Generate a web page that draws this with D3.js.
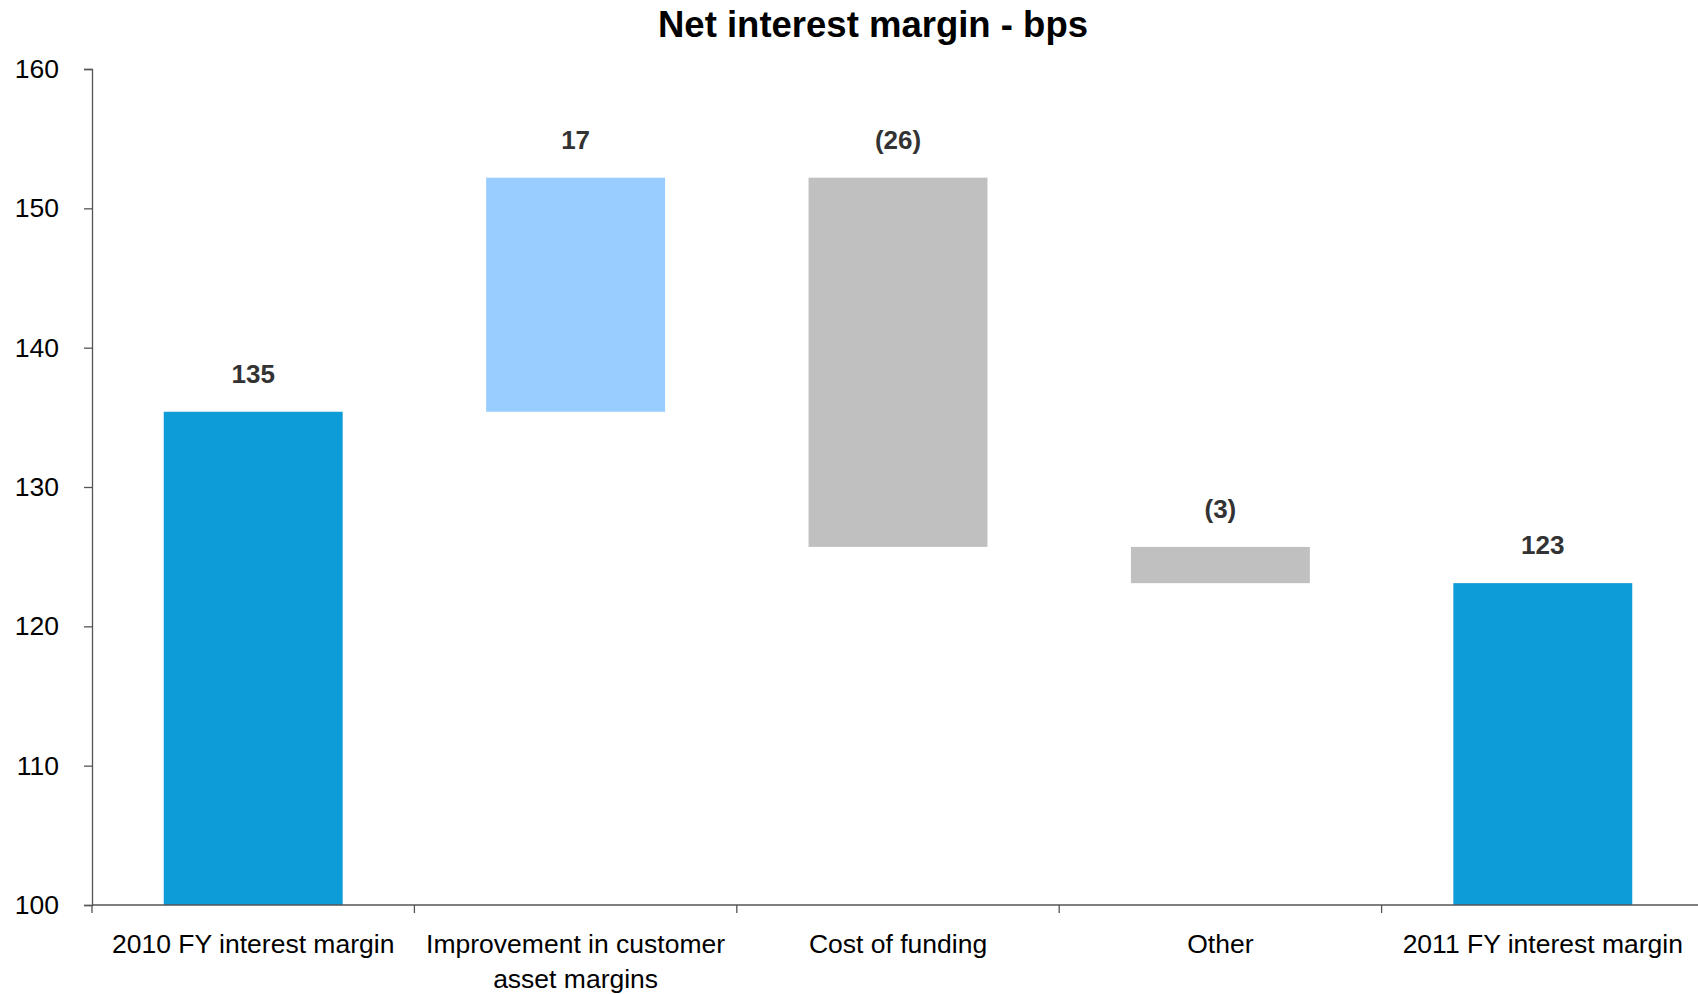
<!DOCTYPE html>
<html>
<head>
<meta charset="utf-8">
<script src="https://cdnjs.cloudflare.com/ajax/libs/d3/7.8.5/d3.min.js"></script>
<style>
  html, body { margin: 0; padding: 0; background: #fff; }
  svg { display: block; font-family: "Liberation Sans", Arial, sans-serif; }
</style>
</head>
<body>
<div id="chart"></div>
<script>
(function () {
  "use strict";

  // waterfall steps (bps)
  var categories = [
    "2010 FY interest margin",
    "Improvement in customer\nasset margins",
    "Cost of funding",
    "Other",
    "2011 FY interest margin"
  ];
  var stepKinds  = ["total", "up", "down", "down", "total"];
  var stepValues = [135.4, 16.8, -26.5, -2.6, 123.1];
  var valueLabels = ["135", "17", "(26)", "(3)", "123"];
  var yTicks = [100, 110, 120, 130, 140, 150, 160];

  var colours = { total: "#0c9cd8", up: "#99ccff", down: "#c0c0c0" };

  var width = 1698, height = 994;
  var margin = { top: 69, right: -6, bottom: 89, left: 92 };
  var innerW = width - margin.left - margin.right;
  var innerH = height - margin.top - margin.bottom;

  // running totals -> [from, to] per bar
  var running = 0;
  var rows = stepValues.map(function (v, i) {
    var from, to;
    if (stepKinds[i] === "total") {
      from = 100; to = v; running = v;
    } else {
      from = running; to = running + v; running = to;
    }
    return { cat: categories[i], kind: stepKinds[i], lo: Math.min(from, to), hi: Math.max(from, to), label: valueLabels[i] };
  });

  var svg = d3.select("#chart").append("svg")
    .attr("width", width).attr("height", height);

  svg.append("text")
    .attr("x", 873).attr("y", 37)
    .attr("text-anchor", "middle")
    .attr("font-size", 36.5).attr("font-weight", "bold")
    .attr("fill", "#000")
    .text("Net interest margin - bps");

  var g = svg.append("g").attr("transform", "translate(" + margin.left + "," + margin.top + ")");

  var x = d3.scaleBand().domain(categories).range([0, innerW]).paddingInner(0.445).paddingOuter(0.2225);
  var xEdges = d3.scaleLinear().domain([0, categories.length]).range([0, innerW]);
  var y = d3.scaleLinear().domain([100, 160]).range([innerH, 0]);

  // y axis
  var yAxis = g.append("g")
    .call(d3.axisLeft(y).tickValues(yTicks).tickSize(8).tickPadding(25).tickFormat(d3.format("d")));
  yAxis.select(".domain").attr("stroke", "#555").attr("stroke-width", 1.3);
  yAxis.selectAll(".tick line").attr("stroke", "#555").attr("stroke-width", 1.3);
  yAxis.selectAll(".tick text").attr("font-size", 26.5).attr("fill", "#000")
    .attr("font-family", "Liberation Sans, Arial, sans-serif");

  // bars
  g.selectAll("rect.bar").data(rows).enter().append("rect")
    .attr("class", "bar")
    .attr("x", function (d) { return x(d.cat); })
    .attr("width", x.bandwidth())
    .attr("y", function (d) { return y(d.hi); })
    .attr("height", function (d) { return y(d.lo) - y(d.hi); })
    .attr("fill", function (d) { return colours[d.kind]; });

  // value labels
  g.selectAll("text.val").data(rows).enter().append("text")
    .attr("class", "val")
    .attr("x", function (d) { return x(d.cat) + x.bandwidth() / 2; })
    .attr("y", function (d) { return y(d.hi) - 29; })
    .attr("text-anchor", "middle")
    .attr("font-size", 26).attr("font-weight", "bold")
    .attr("fill", "#333")
    .text(function (d) { return d.label; });

  // x axis: ticks between categories
  var xAxis = g.append("g").attr("transform", "translate(0," + innerH + ")");
  xAxis.append("line")
    .attr("x1", 0).attr("x2", innerW)
    .attr("stroke", "#555").attr("stroke-width", 1.3);
  xAxis.selectAll("line.sep").data(d3.range(categories.length + 1)).enter().append("line")
    .attr("class", "sep")
    .attr("x1", function (d) { return xEdges(d); })
    .attr("x2", function (d) { return xEdges(d); })
    .attr("y1", 0).attr("y2", 8)
    .attr("stroke", "#555").attr("stroke-width", 1.3);

  var catLabels = xAxis.selectAll("text.cat").data(categories).enter().append("text")
    .attr("class", "cat")
    .attr("text-anchor", "middle")
    .attr("font-size", 26.5)
    .attr("fill", "#000")
    .attr("transform", function (d) { return "translate(" + (x(d) + x.bandwidth() / 2) + ",48)"; });

  catLabels.each(function (d) {
    var lines = d.split("\n");
    var t = d3.select(this);
    lines.forEach(function (line, i) {
      t.append("tspan").attr("x", 0).attr("y", i * 35).text(line);
    });
  });
}());
</script>
</body>
</html>
